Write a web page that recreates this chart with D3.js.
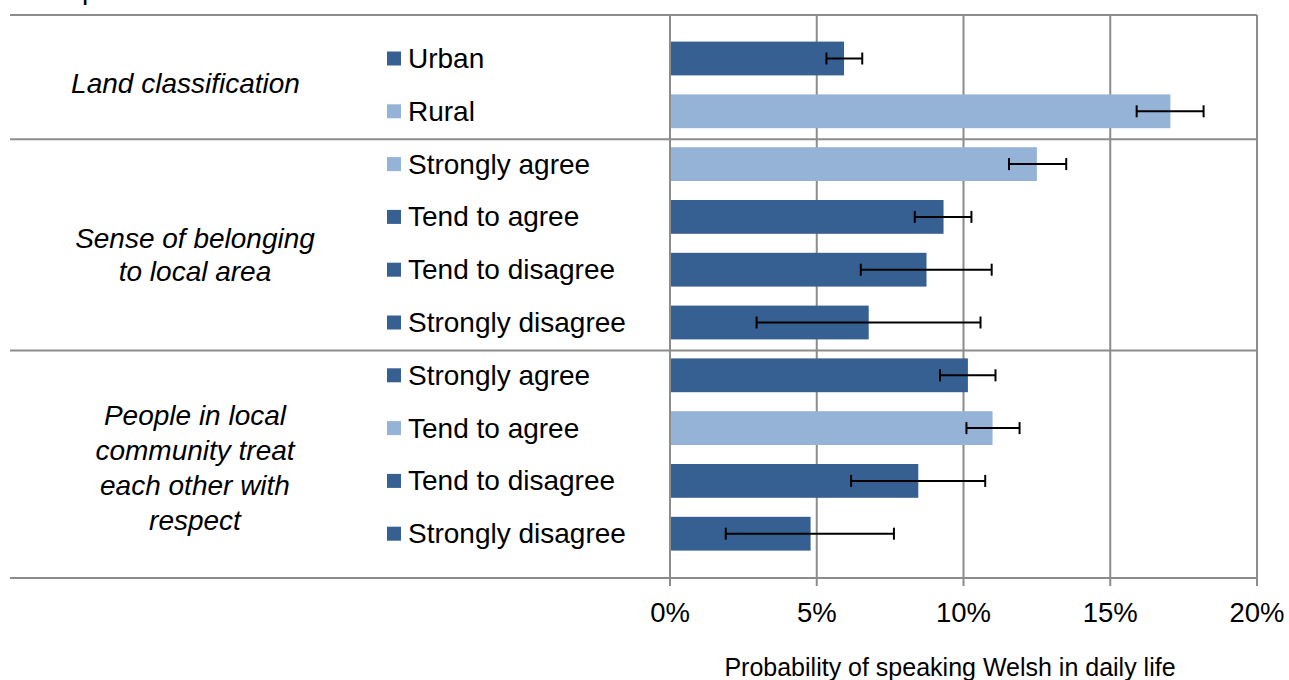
<!DOCTYPE html>
<html><head><meta charset="utf-8">
<script src="https://cdn.jsdelivr.net/npm/d3@7"></script>
<style>body{margin:0;background:#fff}svg{display:block}</style>
</head><body>
<svg id="c" width="1289" height="680"></svg>
<script>
const categories = ["Urban","Rural","Strongly agree","Tend to agree","Tend to disagree","Strongly disagree","Strongly agree","Tend to agree","Tend to disagree","Strongly disagree"];
const values = [5.93,17.05,12.5,9.32,8.74,6.77,10.15,10.99,8.46,4.79];
const errLow = [5.33,15.9,11.55,8.34,6.5,2.95,9.2,10.1,6.17,1.9];
const errHigh = [6.55,18.18,13.5,10.27,10.96,10.58,11.09,11.91,10.74,7.63];
const highlight = [false,true,true,false,false,false,false,true,false,false];
const groups = [
  {lines:["Land classification"], first:0, last:1},
  {lines:["Sense of belonging","to local area"], first:2, last:5},
  {lines:["People in local","community treat","each other with","respect"], first:6, last:9}
];
const xTicks = [0,5,10,15,20];
const xTitle = "Probability of speaking Welsh in daily life";

const dark = "#366092", light = "#95B3D7", grid = "#8c8c8c";
const svg = d3.select("#c");
const font = "'Liberation Sans', Arial, sans-serif";

const x = d3.scaleLinear().domain([0,20]).range([670,1257]);
const y = d3.scaleBand().domain(d3.range(categories.length)).range([32.1,560.1]).paddingInner(0.36).paddingOuter(0.18);
const plotTop = 15, plotBottom = 578, plotLeft = 10;

// gridlines
svg.append("g").selectAll("line").data(xTicks).join("line")
  .attr("x1",d=>x(d)).attr("x2",d=>x(d)).attr("y1",plotTop).attr("y2",plotBottom+8)
  .attr("stroke",grid).attr("stroke-width",2);

// horizontal separators
const seps = [plotTop, (y(1)+y.bandwidth()+y(2))/2+1.5, (y(5)+y.bandwidth()+y(6))/2+1.5, plotBottom];
svg.append("g").selectAll("line").data(seps).join("line")
  .attr("x1",plotLeft).attr("x2",x(20)).attr("y1",d=>d).attr("y2",d=>d)
  .attr("stroke",grid).attr("stroke-width",2);

// bars
svg.append("g").selectAll("rect").data(values).join("rect")
  .attr("x",x(0)+1).attr("y",(d,i)=>y(i)).attr("width",d=>x(d)-x(0)-1).attr("height",y.bandwidth())
  .attr("fill",(d,i)=>highlight[i]?light:dark);

// error bars
const eb = svg.append("g").attr("stroke","#000").attr("stroke-width",2);
values.forEach((v,i)=>{
  const cy = y(i)+y.bandwidth()/2;
  eb.append("line").attr("x1",x(errLow[i])).attr("x2",x(errHigh[i])).attr("y1",cy).attr("y2",cy);
  [errLow[i],errHigh[i]].forEach(e=>eb.append("line").attr("x1",x(e)).attr("x2",x(e)).attr("y1",cy-6).attr("y2",cy+6));
});

// category labels with legend squares
const cl = svg.append("g");
categories.forEach((c,i)=>{
  const cy = y(i)+y.bandwidth()/2;
  cl.append("rect").attr("x",387).attr("y",cy-7).attr("width",14).attr("height",14).attr("fill",highlight[i]?light:dark);
  cl.append("text").attr("x",408).attr("y",cy+9.5).attr("font-family",font).attr("font-size",28).attr("fill","#000").text(c);
});

// group labels
const gl = svg.append("g");
const groupShift = [-2, 11, 13];
groups.forEach((g,gi)=>{
  const cy = (y(g.first)+y(g.last)+y.bandwidth())/2 + groupShift[gi];
  const n = g.lines.length;
  const lh = n === 2 ? 33 : 35;
  g.lines.forEach((t,k)=>{
    gl.append("text").attr("x",n>1?195:185.5).attr("y",cy+(k-(n-1)/2)*lh+10)
      .attr("text-anchor","middle").attr("font-family",font).attr("font-size",28).attr("font-style","italic").text(t);
  });
});

// tick labels
svg.append("g").selectAll("text").data(xTicks).join("text")
  .attr("x",d=>x(d)).attr("y",622).attr("text-anchor","middle").attr("font-family",font).attr("font-size",27.5)
  .text(d=>d+"%");

svg.append("text").attr("x",950).attr("y",676).attr("text-anchor","middle").attr("font-family",font).attr("font-size",25).text(xTitle);

// cut-off title fragment at top
svg.append("text").attr("x",82).attr("y",-1).attr("font-family",font).attr("font-size",28).text("p");
</script>
</body></html>
